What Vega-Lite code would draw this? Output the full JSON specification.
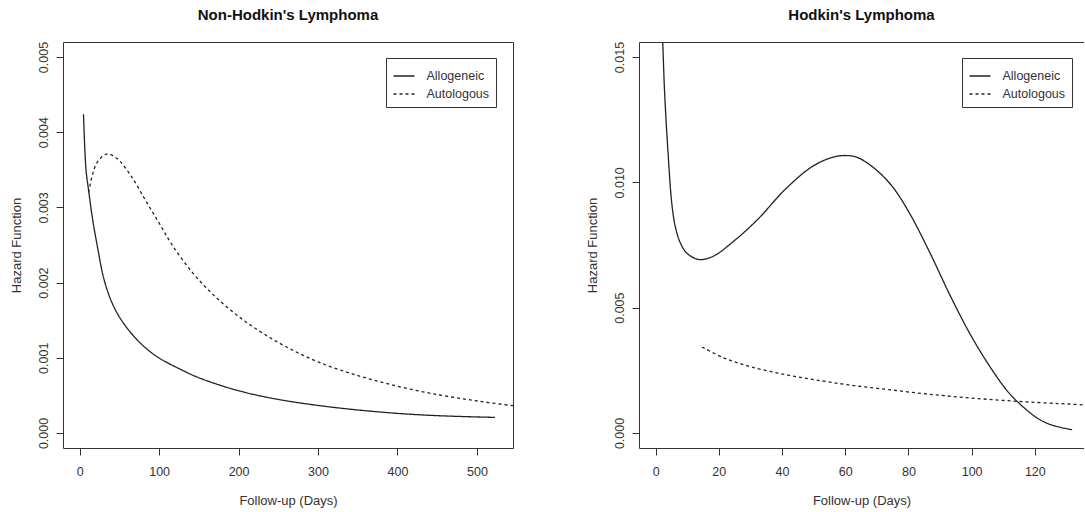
{
  "$schema": "https://vega.github.io/schema/vega-lite/v6.json",
  "padding": {"left": 9, "top": 7, "right": 0, "bottom": 0},
  "config": {
    "font": "Liberation Sans",
    "view": {"stroke": "#333", "strokeWidth": 1},
    "axis": {"grid": false, "domain": false, "domainColor": "#333", "tickColor": "#333", "labelColor": "#333", "titleColor": "#333", "labelFontSize": 12.5, "titleFontSize": 13, "titleFontWeight": "normal", "tickSize": 7, "labelFont": "Liberation Sans", "titleFont": "Liberation Sans"},
    "title": {"fontSize": 15, "fontWeight": "bold", "color": "#111", "anchor": "middle", "font": "Liberation Sans"},
    "legend": {"orient": "none", "legendX": 323, "legendY": 16, "strokeColor": "#333", "fillColor": "white", "padding": 6.5, "labelFontSize": 12.5, "labelColor": "#333", "symbolType": "stroke", "symbolSize": 441, "symbolStrokeWidth": 1.3, "symbolStrokeColor": "#222", "labelOffset": 11, "rowPadding": -5, "title": null}
  },
  "datasets": {
    "nhl": [
      {"group": "Allogeneic", "day": 4.8, "hazard": 0.00424},
      {"group": "Allogeneic", "day": 7.9, "hazard": 0.00351},
      {"group": "Allogeneic", "day": 11.3, "hazard": 0.00322},
      {"group": "Allogeneic", "day": 16.6, "hazard": 0.00282},
      {"group": "Allogeneic", "day": 23, "hazard": 0.00244},
      {"group": "Allogeneic", "day": 29.7, "hazard": 0.00208},
      {"group": "Allogeneic", "day": 38.4, "hazard": 0.00179},
      {"group": "Allogeneic", "day": 49, "hazard": 0.00156},
      {"group": "Allogeneic", "day": 64.6, "hazard": 0.00133},
      {"group": "Allogeneic", "day": 82, "hazard": 0.00114},
      {"group": "Allogeneic", "day": 99.5, "hazard": 0.001},
      {"group": "Allogeneic", "day": 125.7, "hazard": 0.000852},
      {"group": "Allogeneic", "day": 151.8, "hazard": 0.000727},
      {"group": "Allogeneic", "day": 199.8, "hazard": 0.000562},
      {"group": "Allogeneic", "day": 247.8, "hazard": 0.00045},
      {"group": "Allogeneic", "day": 300, "hazard": 0.000366},
      {"group": "Allogeneic", "day": 348, "hazard": 0.000308},
      {"group": "Allogeneic", "day": 400.5, "hazard": 0.00026},
      {"group": "Allogeneic", "day": 452.9, "hazard": 0.000229},
      {"group": "Allogeneic", "day": 522.7, "hazard": 0.000207},
      {"group": "Autologous", "day": 11.3, "hazard": 0.0032},
      {"group": "Autologous", "day": 21, "hazard": 0.00358},
      {"group": "Autologous", "day": 34, "hazard": 0.00371},
      {"group": "Autologous", "day": 47, "hazard": 0.00365},
      {"group": "Autologous", "day": 64.6, "hazard": 0.00342},
      {"group": "Autologous", "day": 82, "hazard": 0.00311},
      {"group": "Autologous", "day": 99.5, "hazard": 0.0028},
      {"group": "Autologous", "day": 117, "hazard": 0.00249},
      {"group": "Autologous", "day": 143, "hazard": 0.00212},
      {"group": "Autologous", "day": 169, "hazard": 0.00183},
      {"group": "Autologous", "day": 200, "hazard": 0.00155},
      {"group": "Autologous", "day": 230, "hazard": 0.00133},
      {"group": "Autologous", "day": 261, "hazard": 0.00114},
      {"group": "Autologous", "day": 300, "hazard": 0.000945},
      {"group": "Autologous", "day": 348, "hazard": 0.00077},
      {"group": "Autologous", "day": 400.5, "hazard": 0.00062},
      {"group": "Autologous", "day": 453, "hazard": 0.000505},
      {"group": "Autologous", "day": 500.9, "hazard": 0.000425},
      {"group": "Autologous", "day": 544.5, "hazard": 0.000364},
      {"group": "Autologous", "day": 560, "hazard": 0.000345}
    ],
    "hl": [
      {"group": "Allogeneic", "day": 1.5, "hazard": 0.0185},
      {"group": "Allogeneic", "day": 2.2, "hazard": 0.0158},
      {"group": "Allogeneic", "day": 2.9, "hazard": 0.01344},
      {"group": "Allogeneic", "day": 4.0, "hazard": 0.01105},
      {"group": "Allogeneic", "day": 5.1, "hazard": 0.00918},
      {"group": "Allogeneic", "day": 6.2, "hazard": 0.00825},
      {"group": "Allogeneic", "day": 7.8, "hazard": 0.00759},
      {"group": "Allogeneic", "day": 10, "hazard": 0.00716},
      {"group": "Allogeneic", "day": 13.8, "hazard": 0.00692},
      {"group": "Allogeneic", "day": 18.2, "hazard": 0.00705},
      {"group": "Allogeneic", "day": 24.7, "hazard": 0.00765},
      {"group": "Allogeneic", "day": 32.3, "hazard": 0.00852},
      {"group": "Allogeneic", "day": 41, "hazard": 0.00972},
      {"group": "Allogeneic", "day": 49.8, "hazard": 0.01065},
      {"group": "Allogeneic", "day": 56.3, "hazard": 0.01101},
      {"group": "Allogeneic", "day": 60.1, "hazard": 0.01107},
      {"group": "Allogeneic", "day": 63.9, "hazard": 0.01099},
      {"group": "Allogeneic", "day": 69.4, "hazard": 0.01054},
      {"group": "Allogeneic", "day": 74.8, "hazard": 0.00985},
      {"group": "Allogeneic", "day": 80.3, "hazard": 0.00878},
      {"group": "Allogeneic", "day": 86.8, "hazard": 0.00719},
      {"group": "Allogeneic", "day": 93.3, "hazard": 0.00546},
      {"group": "Allogeneic", "day": 99.9, "hazard": 0.00386},
      {"group": "Allogeneic", "day": 106.4, "hazard": 0.00253},
      {"group": "Allogeneic", "day": 111.8, "hazard": 0.0016},
      {"group": "Allogeneic", "day": 117.3, "hazard": 0.00093},
      {"group": "Allogeneic", "day": 121.6, "hazard": 0.00053},
      {"group": "Allogeneic", "day": 126, "hazard": 0.00029},
      {"group": "Allogeneic", "day": 131.8, "hazard": 0.00013},
      {"group": "Autologous", "day": 14.7, "hazard": 0.00343},
      {"group": "Autologous", "day": 21.5, "hazard": 0.003},
      {"group": "Autologous", "day": 30.2, "hazard": 0.00264},
      {"group": "Autologous", "day": 41, "hazard": 0.00233},
      {"group": "Autologous", "day": 52, "hazard": 0.00209},
      {"group": "Autologous", "day": 62.8, "hazard": 0.00189},
      {"group": "Autologous", "day": 73.7, "hazard": 0.00173},
      {"group": "Autologous", "day": 84.6, "hazard": 0.00157},
      {"group": "Autologous", "day": 95.5, "hazard": 0.00144},
      {"group": "Autologous", "day": 106.4, "hazard": 0.00133},
      {"group": "Autologous", "day": 117.3, "hazard": 0.00124},
      {"group": "Autologous", "day": 128.2, "hazard": 0.00117},
      {"group": "Autologous", "day": 135.8, "hazard": 0.00112},
      {"group": "Autologous", "day": 140, "hazard": 0.00109}
    ]
  },
  "spacing": 72,
  "resolve": {"scale": {"x": "independent", "y": "independent", "strokeDash": "independent"}},
  "hconcat": [
    {
      "width": 450,
      "height": 406,
      "title": {"text": "Non-Hodkin's Lymphoma", "offset": 18},
      "data": {"name": "nhl"},
      "mark": {"type": "line", "clip": true, "interpolate": "catmull-rom", "color": "#222", "strokeWidth": 1.3},
      "encoding": {
        "x": {"field": "day", "type": "quantitative", "scale": {"domain": [-21, 545.4], "nice": false, "zero": false},
              "axis": {"values": [0, 100, 200, 300, 400, 500], "title": "Follow-up (Days)", "labelPadding": 10, "titlePadding": 17}},
        "y": {"field": "hazard", "type": "quantitative", "scale": {"domain": [-0.0002, 0.0052], "nice": false, "zero": false},
              "axis": {"values": [0, 0.001, 0.002, 0.003, 0.004, 0.005], "format": ".3f", "title": "Hazard Function", "labelAngle": 270, "labelAlign": "center", "labelBaseline": "alphabetic", "labelPadding": 8.5, "titlePadding": 14}},
        "strokeDash": {"field": "group", "type": "nominal", "scale": {"domain": ["Allogeneic", "Autologous"], "range": [[1, 0], [3, 3]]}}
      }
    },
    {
      "width": 445,
      "height": 406,
      "view": {"stroke": null},
      "title": {"text": "Hodkin's Lymphoma", "offset": 18},
      "data": {"name": "hl"},
      "resolve": {"axis": {"x": "independent"}},
      "layer": [
        {
          "mark": {"type": "line", "clip": true, "interpolate": "catmull-rom", "color": "#222", "strokeWidth": 1.3},
          "encoding": {
            "x": {"field": "day", "type": "quantitative", "scale": {"domain": [-5.26, 135.56], "nice": false, "zero": false},
                  "axis": {"values": [0, 20, 40, 60, 80, 100, 120], "title": "Follow-up (Days)", "labelPadding": 10, "titlePadding": 17, "domain": true}},
            "y": {"field": "hazard", "type": "quantitative", "scale": {"domain": [-0.0006, 0.0156], "nice": false, "zero": false},
                  "axis": {"values": [0, 0.005, 0.01, 0.015], "format": ".3f", "title": "Hazard Function", "labelAngle": 270, "labelAlign": "center", "labelBaseline": "alphabetic", "labelPadding": 8.5, "titlePadding": 14, "domain": true}},
            "strokeDash": {"field": "group", "type": "nominal", "scale": {"domain": ["Allogeneic", "Autologous"], "range": [[1, 0], [3, 3]]}}
          }
        },
        {
          "mark": {"type": "line", "clip": true, "strokeOpacity": 0},
          "encoding": {
            "x": {"field": "day", "type": "quantitative", "axis": {"orient": "top", "labels": false, "ticks": false, "title": null, "domain": true}},
            "y": {"field": "hazard", "type": "quantitative"}
          }
        }
      ]
    }
  ]
}
